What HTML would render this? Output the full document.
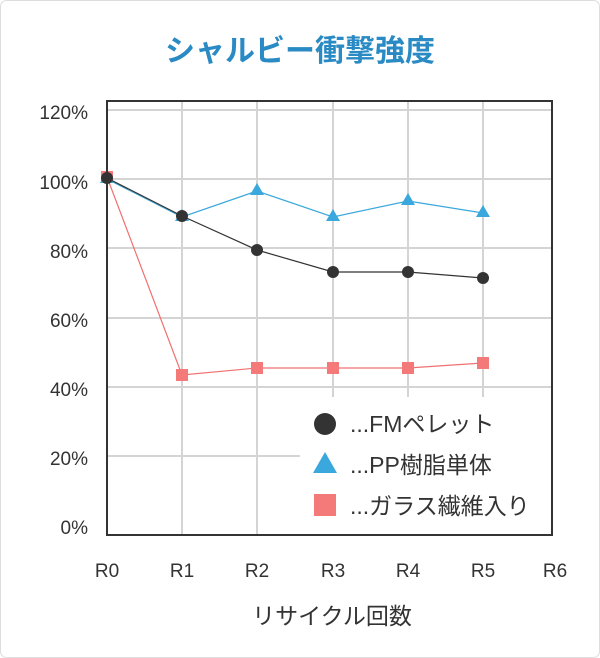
<!DOCTYPE html>
<html><head><meta charset="utf-8"><style>
body{margin:0;background:#fff}
svg{display:block}
text{font-family:"Liberation Sans","Noto Sans CJK JP",sans-serif}
</style></head><body>
<svg width="600" height="658" viewBox="0 0 600 658">
<rect x="0.5" y="0.5" width="599" height="657" rx="6" fill="#fff" stroke="#ddd"/>
<text x="300" y="61" text-anchor="middle" font-size="30" font-weight="bold" fill="#2a8ac4">シャルビー衝撃強度</text>
<g stroke="#d4d4d4" stroke-width="2">
<line x1="107" x2="552" y1="110" y2="110"/><line x1="107" x2="552" y1="179" y2="179"/>
<line x1="107" x2="552" y1="248" y2="248"/><line x1="107" x2="552" y1="318" y2="318"/>
<line x1="107" x2="552" y1="387" y2="387"/><line x1="107" x2="552" y1="456" y2="456"/>
<line x1="182" x2="182" y1="101" y2="535"/><line x1="257" x2="257" y1="101" y2="535"/>
<line x1="333" x2="333" y1="101" y2="535"/><line x1="408" x2="408" y1="101" y2="535"/>
<line x1="483" x2="483" y1="101" y2="535"/>
</g>
<polyline fill="none" stroke="#f07070" stroke-width="1.2" points="107,177 182,375 257,368 333,368 408,368 483,363"/>
<g fill="#f47a7a"><rect x="101" y="171" width="12" height="12"/><rect x="176" y="369" width="12" height="12"/><rect x="251" y="362" width="12" height="12"/><rect x="327" y="362" width="12" height="12"/><rect x="402" y="362" width="12" height="12"/><rect x="477" y="357" width="12" height="12"/></g>
<polyline fill="none" stroke="#3aa8dc" stroke-width="1.2" points="107,179 182,217 257,191 333,217 408,201 483,213"/>
<g fill="#3aa8dc"><path d="M107,171l7,12h-14z"/><path d="M182,209l7,12h-14z"/><path d="M257,183l7,12h-14z"/><path d="M333,209l7,12h-14z"/><path d="M408,193l7,12h-14z"/><path d="M483,205l7,12h-14z"/></g>
<polyline fill="none" stroke="#333" stroke-width="1.2" points="107,178 182,216 257,250 333,272 408,272 483,278"/>
<g fill="#333"><circle cx="107" cy="178" r="6"/><circle cx="182" cy="216" r="6"/><circle cx="257" cy="250" r="6"/><circle cx="333" cy="272" r="6"/><circle cx="408" cy="272" r="6"/><circle cx="483" cy="278" r="6"/></g>
<rect x="300" y="397" width="252" height="138" fill="#fff"/>
<rect x="107" y="101" width="445" height="434" fill="none" stroke="#333" stroke-width="2"/>
<circle cx="325" cy="424" r="11" fill="#333"/>
<path d="M325,452l12,21h-24z" fill="#3aa8dc"/>
<rect x="314" y="494" width="22" height="22" fill="#f47a7a"/>
<g font-size="23" fill="#333">
<text x="350" y="432">...FMペレット</text>
<text x="350" y="473">...PP樹脂単体</text>
<text x="350" y="514">...ガラス繊維入り</text>
</g>
<g font-size="19" fill="#333" text-anchor="end">
<text x="88" y="119">120%</text><text x="88" y="189">100%</text><text x="88" y="258">80%</text>
<text x="88" y="327">60%</text><text x="88" y="396">40%</text><text x="88" y="465">20%</text><text x="88" y="534">0%</text>
</g>
<g font-size="19" fill="#333" text-anchor="middle">
<text x="107" y="577">R0</text><text x="182" y="577">R1</text><text x="257" y="577">R2</text>
<text x="333" y="577">R3</text><text x="408" y="577">R4</text><text x="483" y="577">R5</text><text x="555" y="577">R6</text>
<text x="332" y="624" font-size="23">リサイクル回数</text>
</g>
</svg>
</body></html>
